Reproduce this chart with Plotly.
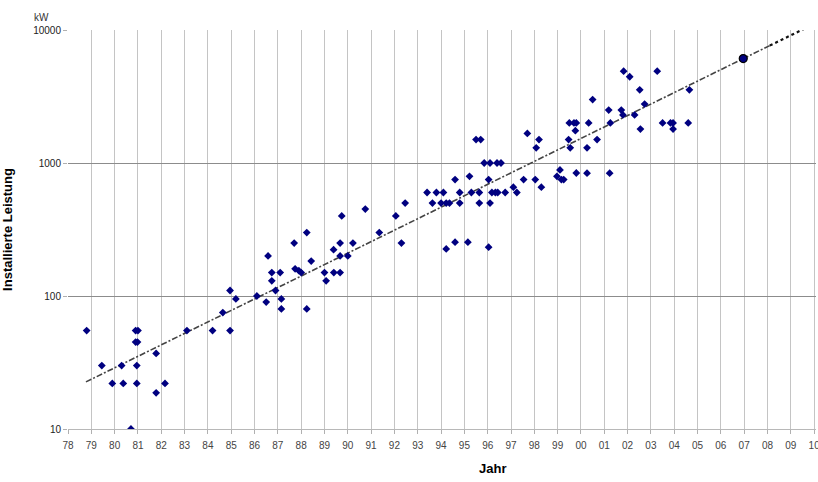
import plotly.graph_objects as go

# Scatter data: installation year (decimal) and installed power (kW)
years = [1978.8, 1979.45, 1979.9, 1980.3, 1980.37, 1980.9, 1981.0, 1980.9, 1980.98, 1980.95,
         1980.95, 1980.7, 1981.78, 1981.78, 1982.16, 1983.1, 1984.2, 1984.64, 1984.95, 1984.95,
         1985.2, 1986.1, 1986.5, 1986.58, 1986.74, 1986.74, 1986.9, 1987.1, 1987.15, 1987.15,
         1987.7, 1987.74, 1987.9, 1988.0, 1988.24, 1988.24, 1988.43, 1989.0, 1989.07, 1989.39,
         1989.4, 1989.67, 1989.67, 1989.74, 1989.67, 1990.0, 1990.22, 1990.75, 1991.35, 1992.06,
         1992.3, 1992.46,
         1993.4, 1993.8, 1994.1, 1993.63, 1994.0, 1994.22, 1994.36, 1994.6, 1994.8, 1994.8,
         1994.22, 1994.6, 1995.15, 1995.22, 1995.3, 1995.5, 1995.7, 1995.64, 1995.64, 1995.85,
         1996.1, 1996.4, 1996.57, 1996.04, 1996.1, 1996.04, 1996.18, 1996.33, 1996.43, 1996.75,
         1997.1, 1997.25, 1997.54, 1997.7, 1998.04, 1998.08, 1998.2, 1998.3, 1998.97, 1999.1,
         1999.16, 1999.26, 1999.47, 1999.54, 1999.5, 1999.7, 1999.8, 1999.76, 1999.8, 2000.26,
         2001.23, 2000.26, 2000.33, 2000.5, 2000.69, 2001.19, 2001.26, 2001.73, 2001.8, 2001.83,
         2002.09, 2002.3, 2002.52, 2002.55, 2002.73, 2003.27, 2003.5, 2003.84, 2003.95, 2003.95,
         2004.6, 2004.65]
power_kw = [55, 30, 22, 30, 22, 55, 55, 45, 45, 30,
            22, 10, 37, 18.7, 22, 55, 55, 75, 110, 55,
            95, 100, 90, 200, 150, 130, 110, 150, 95, 80,
            250, 160, 155, 150, 300, 80, 183, 150, 130, 223,
            150, 250, 150, 400, 200, 200, 250, 450, 300, 400,
            250, 500,
            600, 600, 600, 500, 500, 500, 500, 750, 600, 500,
            226, 254, 254, 794, 600, 1500, 1500, 600, 500, 1000,
            1000, 1000, 1000, 750, 500, 233, 600, 600, 600, 600,
            658, 600, 750, 1670, 750, 1300, 1500, 658, 794, 887,
            750, 750, 1500, 1300, 2000, 2000, 2000, 1750, 841, 838,
            838, 1300, 2000, 3000, 1500, 2500, 2000, 2500, 2300, 4900,
            4450, 2300, 3550, 1800, 2775, 4900, 2000, 2000, 2000, 1800,
            2000, 3550]

# Highlighted point
hl_year = [2006.96]
hl_kw = [6100]

# Trend line
trend_years = [1978.77, 2008.1]
trend_kw = [22.6, 7640]
ext_years = [2008.1, 2010.0]
ext_kw = [7640, 11100]

tick_years = list(range(1978, 2011))
tick_text = [str(y)[-2:] for y in tick_years]
y_ticks = [10, 100, 1000, 10000]
y_ticktext = ["10", "100", "1000", "10000"]

fig = go.Figure()
fig.add_trace(go.Scatter(x=trend_years, y=trend_kw, mode="lines",
                         line=dict(color="#444444", width=1.6, dash="6px,2px,2px,2px"),
                         showlegend=False, hoverinfo="skip"))
fig.add_trace(go.Scatter(x=ext_years, y=ext_kw, mode="lines",
                         line=dict(color="#111111", width=2.2, dash="dot"),
                         showlegend=False, hoverinfo="skip"))
fig.add_trace(go.Scatter(x=years, y=power_kw, mode="markers",
                         marker=dict(symbol="diamond", size=6, color="#000080"),
                         showlegend=False))
fig.add_trace(go.Scatter(x=hl_year, y=hl_kw, mode="markers",
                         marker=dict(symbol="circle", size=8, color="#000080",
                                     line=dict(color="#000000", width=1.2)),
                         showlegend=False))

fig.update_layout(
    width=818, height=482,
    margin=dict(l=68, r=2, t=30, b=53),
    paper_bgcolor="white", plot_bgcolor="white",
    font=dict(family="Arial, Liberation Sans, sans-serif", size=10, color="#333333"),
)
fig.update_xaxes(range=[1978, 2010.08], tickvals=tick_years, ticktext=tick_text,
                 showgrid=True, gridcolor="#c4c4c4", gridwidth=1,
                 showline=True, linecolor="#b8b8b8", linewidth=1,
                 ticks="outside", ticklen=4, tickcolor="#b0b0b0",
                 ticklabelstandoff=3, zeroline=False, automargin=False,
                 ticklabeloverflow="allow",
                 tickfont=dict(size=10, color="#444444"))
fig.update_yaxes(type="log", range=[1, 4], tickvals=y_ticks, ticktext=y_ticktext,
                 showgrid=True, gridcolor="#8c8c8c", gridwidth=1,
                 showline=False, ticks="outside", ticklen=4, tickcolor="#b0b0b0",
                 zeroline=False,
                 tickfont=dict(size=10, color="#222222"),
                 title=dict(text="<b>Installierte Leistung</b>",
                            font=dict(size=13, color="#000000"), standoff=22))

fig.add_annotation(xref="paper", yref="paper", x=-0.036, y=1.0325, text="kW",
                   showarrow=False, font=dict(size=10, color="#333333"),
                   xanchor="center", yanchor="middle")
fig.add_annotation(xref="paper", yref="paper", x=0.568, y=-0.075, text="<b>Jahr</b>",
                   showarrow=False, font=dict(size=13, color="#000000"),
                   xanchor="center", yanchor="top")

fig.write_html("out.html")
